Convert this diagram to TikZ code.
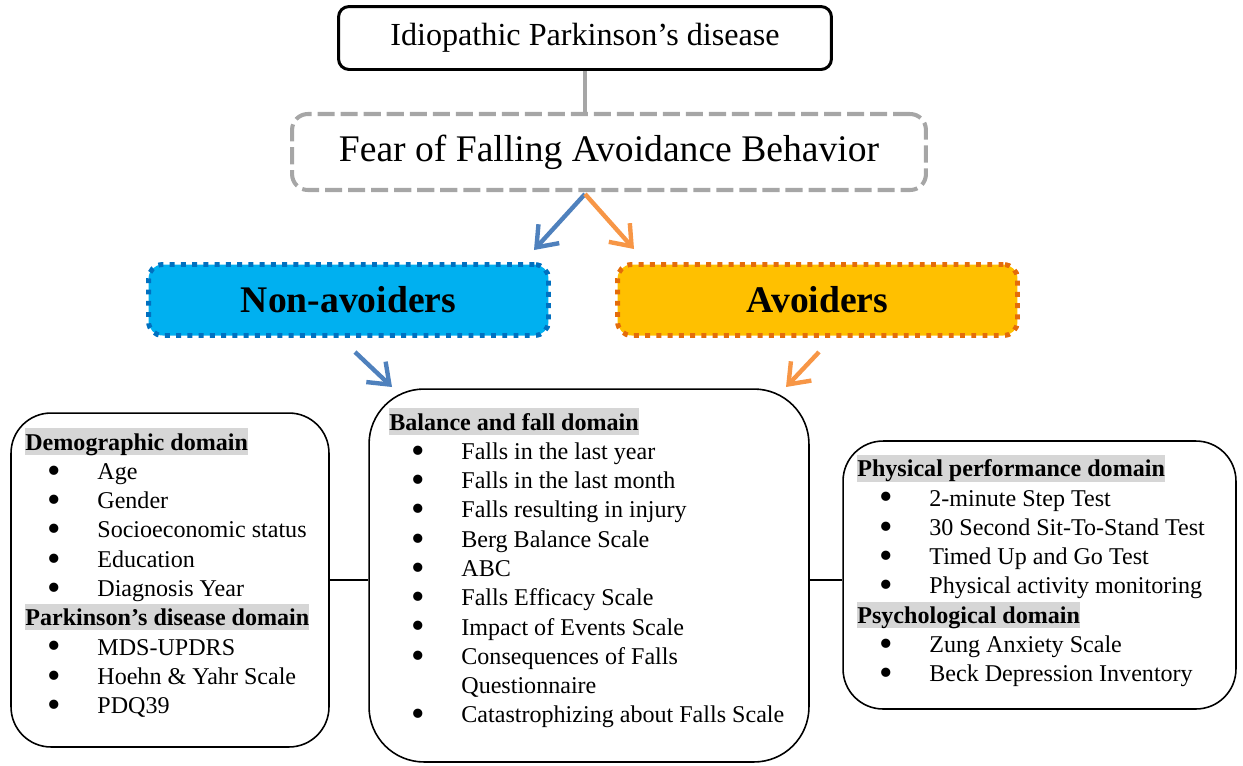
\documentclass[tikz,border=0pt]{standalone}
\usepackage{fontspec}
\usepackage{graphicx}
\setmainfont{Liberation Serif}
\usetikzlibrary{arrows.meta,positioning}
\definecolor{arrblue}{HTML}{4F81BD}
\definecolor{arrorange}{HTML}{F79646}
\definecolor{nafill}{HTML}{00B0F0}
\definecolor{nadraw}{HTML}{0070C0}
\definecolor{avfill}{HTML}{FFC000}
\definecolor{avdraw}{HTML}{E46C0A}
\definecolor{linegray}{HTML}{A6A6A6}
\definecolor{hlgray}{HTML}{D6D6D6}
\setlength{\fboxsep}{0pt}
\newcommand{\dom}[1]{\colorbox{hlgray}{\rule[-2.7pt]{0pt}{15pt}\bfseries #1}}
\newcommand{\itm}[1]{\hspace*{12.7pt}\makebox[28.3pt][l]{\raisebox{-2.2pt}{\scalebox{1.6}{\textbullet}}}#1}
\newcommand{\cont}[1]{\hspace*{41pt}#1}
\begin{document}
\begin{tikzpicture}[x=0.02cm,y=-0.02cm,
  every node/.style={inner sep=0pt},
  bigbox/.style={draw,line width=0.9pt},
  link/.style={line width=0.9pt},
  listtext/.style={anchor=base west,font=\fontsize{13.7}{16.67}\selectfont},
  group/.style={draw,rounded corners=8pt,line width=2.8pt,dash pattern=on 2.8pt off 3.6pt,
    minimum width=8cm,minimum height=1.42cm,font=\fontsize{21.4}{25}\selectfont\bfseries},
  arr/.style={line width=2.5pt,-{Straight Barb[length=10.5pt,width=16pt]}}]
  \useasboundingbox (0,0) rectangle (1243,765);
  \node[draw,line width=1.7pt,rounded corners=6pt,minimum width=9.86cm,minimum height=1.26cm,
    font=\fontsize{18.3}{22}\selectfont] (pd) at (585,38) {Idiopathic Parkinson’s disease};
  \node[draw=linegray,line width=2.3pt,dash pattern=on 9.7pt off 3.4pt,rounded corners=9pt,
    minimum width=12.68cm,minimum height=1.52cm,font=\fontsize{21.4}{25}\selectfont] (fear) at (609,152)
    {Fear of Falling Avoidance Behavior};
  \draw[linegray,line width=2.3pt] (pd.south) -- (pd.south |- fear.north);
  \node[group,draw=nadraw,fill=nafill] (nonav) at (348.5,300) {Non-avoiders};
  \node[group,draw=avdraw,fill=avfill] (av) at (817.5,300) {Avoiders};
  \coordinate (split) at (585,194);
  \coordinate (nonav-tip) at (534,250);
  \coordinate (av-tip) at (634,249);
  \coordinate (nonav-from) at (355,352);
  \coordinate (nonav-to) at (392,387);
  \coordinate (av-from) at (819,352);
  \coordinate (av-to) at (786,387);
  \draw[arr,arrblue] (split) -- (nonav-tip);
  \draw[arr,arrorange] (split) -- (av-tip);
  \draw[arr,arrblue] (nonav-from) -- (nonav-to);
  \draw[arr,arrorange] (av-from) -- (av-to);
  \node[bigbox,rounded corners=0.8cm,minimum width=6.36cm,minimum height=6.68cm] (demo) at (170,580) {};
  \node[bigbox,rounded corners=1.1cm,minimum width=8.8cm,minimum height=7.46cm] (bal) at (589,575.5) {};
  \node[bigbox,rounded corners=0.8cm,minimum width=7.86cm,minimum height=5.36cm] (phys) at (1039.5,575) {};
  \draw[link] (demo.east) -- (demo.east -| bal.west);
  \draw[link] (bal.east |- demo.east) -- (phys.west |- demo.east);
  \node[listtext] (demo-list) at (25,450) {\parbox[t]{7cm}{%
    \dom{Demographic domain}\\
    \itm{Age}\\
    \itm{Gender}\\
    \itm{Socioeconomic status}\\
    \itm{Education}\\
    \itm{Diagnosis Year}\\
    \dom{Parkinson’s disease domain}\\
    \itm{MDS-UPDRS}\\
    \itm{Hoehn \& Yahr Scale}\\
    \itm{PDQ39}}};
  \node[listtext] (bal-list) at (389,430) {\parbox[t]{9cm}{%
    \dom{Balance and fall domain}\\
    \itm{Falls in the last year}\\
    \itm{Falls in the last month}\\
    \itm{Falls resulting in injury}\\
    \itm{Berg Balance Scale}\\
    \itm{ABC}\\
    \itm{Falls Efficacy Scale}\\
    \itm{Impact of Events Scale}\\
    \itm{Consequences of Falls}\\
    \cont{Questionnaire}\\
    \itm{Catastrophizing about Falls Scale}}};
  \node[listtext] (phys-list) at (857,476.7) {\parbox[t]{8cm}{%
    \dom{Physical performance domain}\\
    \itm{2-minute Step Test}\\
    \itm{30 Second Sit-To-Stand Test}\\
    \itm{Timed Up and Go Test}\\
    \itm{Physical activity monitoring}\\
    \dom{Psychological domain}\\
    \itm{Zung Anxiety Scale}\\
    \itm{Beck Depression Inventory}}};
\end{tikzpicture}
\end{document}
